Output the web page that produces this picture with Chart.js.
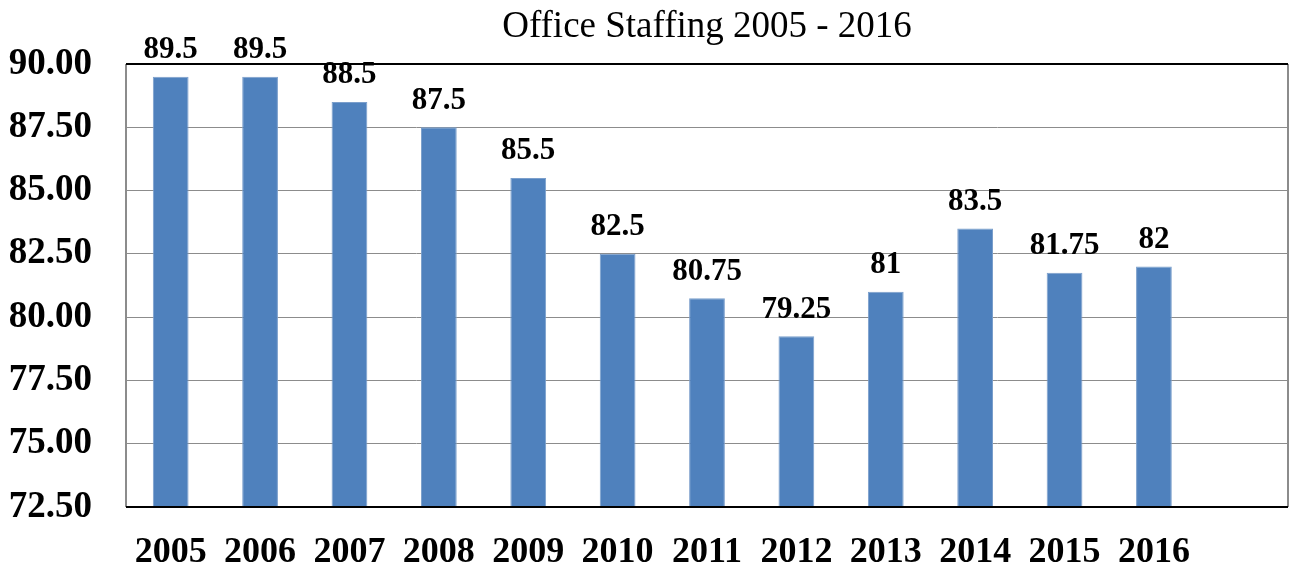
<!DOCTYPE html>
<html>
<head>
<meta charset="utf-8">
<script src="https://cdn.jsdelivr.net/npm/chart.js@4"></script>
<style>
  html, body { margin: 0; padding: 0; background: #fff; }
  #wrap { width: 1289px; height: 564px; position: relative; }
</style>
</head>
<body>
<div id="wrap"><canvas id="staffChart"></canvas></div>
<script>
// Office staffing bar chart

const titleText = 'Office Staffing 2005 - 2016';
const years = ['2005', '2006', '2007', '2008', '2009', '2010', '2011', '2012', '2013', '2014', '2015', '2016'];
const staffing = [89.5, 89.5, 88.5, 87.5, 85.5, 82.5, 80.75, 79.25, 81, 83.5, 81.75, 82];
const valueLabels = ['89.5', '89.5', '88.5', '87.5', '85.5', '82.5', '80.75', '79.25', '81', '83.5', '81.75', '82'];

const SERIF = '"Liberation Serif", "Times New Roman", serif';

// title centred over the plot area, not the canvas
const plotTitle = {
  id: 'plotTitle',
  afterDraw: function (chart) {
    const ctx = chart.ctx;
    const a = chart.chartArea;
    ctx.save();
    ctx.font = '37px ' + SERIF;
    ctx.fillStyle = '#000';
    ctx.textAlign = 'center';
    ctx.textBaseline = 'middle';
    ctx.fillText(titleText, (a.left + a.right) / 2, 27);
    ctx.restore();
  }
};

// frame round the plot area: black top/bottom, grey sides
const plotFrame = {
  id: 'plotFrame',
  afterDraw: function (chart) {
    const ctx = chart.ctx;
    const a = chart.chartArea;
    ctx.save();
    ctx.strokeStyle = '#8c8c8c';
    ctx.lineWidth = 2;
    ctx.beginPath();
    ctx.moveTo(a.left, a.top);
    ctx.lineTo(a.left, a.bottom);
    ctx.moveTo(a.right, a.top);
    ctx.lineTo(a.right, a.bottom);
    ctx.stroke();
    ctx.strokeStyle = '#000';
    ctx.lineWidth = 2;
    ctx.beginPath();
    ctx.moveTo(a.left, a.top);
    ctx.lineTo(a.right, a.top);
    ctx.moveTo(a.left, a.bottom);
    ctx.lineTo(a.right, a.bottom);
    ctx.stroke();
    ctx.restore();
  }
};

const barValues = {
  id: 'barValues',
  afterDatasetsDraw: function (chart) {
    const ctx = chart.ctx;
    const meta = chart.getDatasetMeta(0);
    ctx.save();
    ctx.font = 'bold 31px ' + SERIF;
    ctx.fillStyle = '#000';
    ctx.textAlign = 'center';
    ctx.textBaseline = 'bottom';
    meta.data.forEach(function (bar, i) {
      ctx.fillText(valueLabels[i], bar.x, bar.y - 11);
    });
    ctx.restore();
  }
};

const ctx = document.getElementById('staffChart').getContext('2d');
new Chart(ctx, {
  type: 'bar',
  data: {
    labels: years.concat(['']),
    datasets: [{
      data: staffing,
      backgroundColor: '#4f81bd',
      borderColor: '#7b9fcc',
      borderWidth: 1,
      barPercentage: 0.8,
      categoryPercentage: 0.5,
      base: 72.5
    }]
  },
  options: {
    responsive: true,
    maintainAspectRatio: false,
    animation: false,
    layout: { padding: { left: 0, right: 1, top: 64, bottom: 0 } },
    plugins: {
      legend: { display: false },
      tooltip: { enabled: false },
      title: { display: false }
    },
    scales: {
      x: {
        grid: { display: false },
        border: { display: false },
        ticks: {
          color: '#000',
          font: { family: SERIF, size: 36, weight: 'bold' },
          maxRotation: 0,
          autoSkip: false,
          padding: 16
        },
        afterFit: function (scale) { scale.height = 57; }
      },
      y: {
        min: 72.5,
        max: 90,
        border: { display: false },
        grid: { color: '#8c8c8c', lineWidth: 1, drawTicks: false },
        ticks: {
          stepSize: 2.5,
          color: '#000',
          font: { family: SERIF, size: 37, weight: 'bold' },
          padding: 34,
          callback: function (v) { return v.toFixed(2); }
        },
        afterFit: function (scale) { scale.width = 126; }
      }
    }
  },
  plugins: [plotTitle, plotFrame, barValues]
});
</script>
</body>
</html>
